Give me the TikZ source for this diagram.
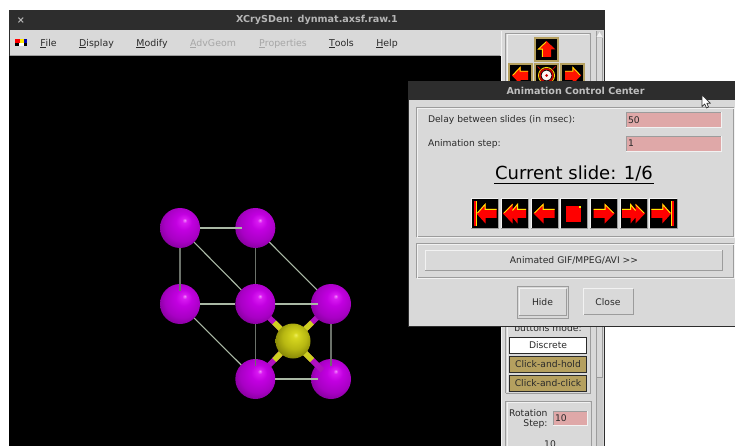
\documentclass[tikz,border=0pt]{standalone}
\usepackage{fontspec}
\setmainfont{DejaVu Sans}
\usetikzlibrary{calc}
\definecolor{guigray}{HTML}{D9D9D9}
\definecolor{titlebar}{HTML}{2D2D2D}
\definecolor{hilite}{HTML}{F2F2F2}
\definecolor{lowlite}{HTML}{9C9C9C}
\definecolor{entrypink}{HTML}{DFA8A8}
\definecolor{tanbtn}{HTML}{B5A05F}
\definecolor{inktext}{HTML}{2A2A2A}
\definecolor{gridline}{HTML}{A9B8A4}
\definecolor{vline}{HTML}{6B726A}
\definecolor{bondpurple}{HTML}{B010C0}
\definecolor{bondyellow}{HTML}{CFCF20}
\pgfdeclareradialshading{purpleball}{\pgfpoint{6bp}{10bp}}{
  rgb(0bp)=(0.95,0.55,0.98);
  rgb(3bp)=(0.85,0.1,0.95);
  rgb(10bp)=(0.76,0,0.88);
  rgb(22bp)=(0.66,0,0.77);
  rgb(34bp)=(0.45,0,0.53);
  rgb(44bp)=(0.2,0,0.25)}
\pgfdeclareradialshading{yellowball}{\pgfpoint{4bp}{9bp}}{
  rgb(0bp)=(0.93,0.93,0.35);
  rgb(4bp)=(0.84,0.84,0.12);
  rgb(17bp)=(0.72,0.72,0.07);
  rgb(30bp)=(0.5,0.5,0.02);
  rgb(44bp)=(0.2,0.2,0)}
\tikzset{
  x=1pt,y=-1pt,
  every node/.style={inner sep=0pt,outer sep=0pt,text=inktext,font=\fontsize{9.2}{11}\selectfont},
  menuitem/.style={anchor=center,font=\fontsize{9.4}{11}\selectfont},
  menuoff/.style={menuitem,text=lowlite!90!white},
  titletext/.style={font=\bfseries\fontsize{9.6}{11}\selectfont},
  atom/.style={circle,minimum size=40pt,shading=purpleball,draw=none},
  yatom/.style={circle,minimum size=35pt,shading=yellowball,draw=none},
  gridh/.style={draw=gridline,line width=1.1pt},
  gridv/.style={draw=vline,line width=1.1pt},
  entrybox/.style={fill=entrypink},
  redarrow/.style={fill=red,draw=none},
  yel/.style={draw=yellow!90!orange,line width=1pt,line join=miter},
}
\newcommand{\bevel}[4]{%
  \draw[hilite,line width=1pt] (#1,#4)--(#1,#2)--(#3,#2);
  \draw[lowlite,line width=1pt] (#3,#2)--(#3,#4)--(#1,#4);}
\newcommand{\groove}[4]{%
  \draw[lowlite,line width=0.8pt] (#1,#2) rectangle (#3,#4);
  \draw[hilite,line width=0.7pt] (#1+1,#2+1) rectangle (#3+1,#4+1);}
\newcommand{\entrybg}[4]{%
  \fill[entrybox] (#1,#2) rectangle (#3,#4);
  \draw[lowlite,line width=.8pt] (#1,#4)--(#1,#2)--(#3,#2);
  \draw[hilite,line width=.8pt] (#3,#2)--(#3,#4)--(#1,#4);}
\newcommand{\animbtn}[4]{%
  \fill[black] (#1,199) rectangle (#2,228);
  \draw[hilite,line width=1pt] (#1,228)--(#1,199)--(#2,199);
  \draw[lowlite,line width=1pt] (#2,199)--(#2,228)--(#1,228);
  \begin{scope}[shift={({(#1+#2)/2},213.5)},xscale=#3]#4\end{scope}}
\newcommand{\icsingle}{%
  \fill[redarrow] (-10,-4.5)--(1,-4.5)--(1,-10)--(11,0)--(1,10)--(1,4.5)--(-10,4.5)--cycle;
  \draw[yel] (-10,-4)--(1.5,-4)--(1.5,-9)--(10,-.5);}
\newcommand{\icdouble}{%
  \fill[redarrow] (-11.5,-4.5)--(-3,-4.5)--(-3,-10)--(2,-4)--(2,-10)--(11.5,0)--(2,10)--(2,4)--(-3,10)--(-3,4.5)--(-11.5,4.5)--cycle;
  \draw[yel] (-11.5,-4)--(-3,-4)--(-3,-9)--(2,-3);
  \draw[yel] (2,-9)--(10.5,-.5);}
\newcommand{\icend}{%
  \fill[redarrow] (-12,-4.5)--(-1,-4.5)--(-1,-10)--(8,0)--(-1,10)--(-1,4.5)--(-12,4.5)--cycle;
  \fill[redarrow] (8,-12) rectangle (11,12);
  \draw[yel] (-12,-4)--(-.5,-4)--(-.5,-9)--(7,-.5);
  \draw[yel] (8.5,-12)--(8.5,12);}
\newcommand{\icstop}{%
  \fill[redarrow] (-7.5,-7.5) rectangle (7.5,8);
  \fill[yellow] (5,-7) rectangle (7,-5);}
\newcommand{\rotbtn}[5]{%
  \fill[black] (#1,#2) rectangle (#3,#4);
  \draw[tanbtn,line width=1.6pt] (#1+.8,#2+.8) rectangle (#3-.8,#4-.8);
  \begin{scope}[shift={({(#1+#3)/2},{(#2+#4)/2})}]#5\end{scope}}
\newcommand{\rotarrow}{%
  \fill[red!85!orange] (-7.5,-4.5)--(0,-4.5)--(0,-9)--(8.5,0)--(0,9)--(0,4.5)--(-7.5,4.5)--cycle;
  \draw[yellow!85!orange,line width=.9pt] (-7.5,-4.2)--(.4,-4.2)--(.4,-8)--(7.5,-.5);}
\begin{document}
\begin{tikzpicture}
\useasboundingbox (0,0) rectangle (735,446);
\fill[white] (0,0) rectangle (735,446);

% main window
\fill[titlebar] (9,10.5) rectangle (604.5,446);
\fill[guigray] (9.5,30) rectangle (604,446);
\draw[lowlite,line width=1pt] (9.5,55.5)--(500,55.5);
\fill[black] (9,56) rectangle (500.5,446);
\node[titletext,text=lightgray!90!gray] (xclose) at (21,20.3) {×};
\node[titletext,text=lightgray!85!gray] (maintitle) at (317,20.3) {XCrySDen: dynmat.axsf.raw.1};

% menu
\fill[black] (15,39) rectangle (27,46);
\fill[red] (15,39) rectangle (19.5,43);
\fill[yellow!90!orange] (19.5,39) rectangle (23.5,43);
\fill[blue!70!black] (23.5,39) rectangle (27,43);
\fill[white] (19,43) rectangle (24,46);
\node[menuitem] (mfile) at (48.5,43.5) {\underline{F}ile};
\node[menuitem] (mdisp) at (96.5,43.5) {\underline{D}isplay};
\node[menuitem] (mmod) at (152,43.5) {\underline{M}odify};
\node[menuoff] (madv) at (213,43.5) {\underline{A}dvGeom};
\node[menuoff] (mprop) at (283,43.5) {\underline{P}roperties};
\node[menuitem] (mtools) at (341.5,43.5) {\underline{T}ools};
\node[menuitem] (mhelp) at (387,43.5) {\underline{H}elp};

% right panel
\draw[hilite,line width=.8pt] (501,446)--(501,31);
\draw[lowlite,line width=.8pt] (505.5,393)--(505.5,33)--(590.5,33)--(590.5,393)--(505.5,393);
\draw[hilite,line width=.7pt] (507,392)--(507,34.5)--(589,34.5);
\draw[lowlite,line width=.8pt] (505.5,446)--(505.5,401)--(591,401)--(591,446);
\draw[hilite,line width=.7pt] (507,446)--(507,402)--(589.5,402);
\fill[guigray!85!gray] (596,31) rectangle (603,446);
\draw[lowlite,line width=.6pt] (596,31)--(596,446);
\fill[guigray] (597,38) rectangle (602,377);
\draw[lowlite,line width=.6pt] (597,377)--(602,377)--(602,38);
\fill[hilite] (599.5,32)--(602.5,37)--(596.5,37)--cycle;

\rotbtn{534}{37}{559}{62}{\begin{scope}[rotate=90]\rotarrow\end{scope}}
\rotbtn{508}{63}{533}{88}{\begin{scope}[xscale=-1]\rotarrow\end{scope}}
\rotbtn{560}{63}{585}{88}{\rotarrow}
\rotbtn{534}{63}{559}{88}{%
  \draw[yellow!80!orange,line width=1pt] (0,0) circle (8);
  \draw[red!80!black,line width=1.4pt] (0,0) circle (6.5);
  \fill[white!80!pink] (0,0) circle (5);
  \fill[red!80!black] (0,0) circle (1.5);
  \draw[red!70!black,line width=1pt] (-9,-9)--(-4,-4) (9,-9)--(4,-4) (-9,9)--(-4,4) (9,9)--(4,4);}

% lower panel widgets
\node (bmode) at (548,328) {buttons mode:};
\fill[white] (509.5,337.5) rectangle (586.5,353.5);
\draw[inktext,line width=1pt] (509.5,337.5) rectangle (586.5,353.5);
\node (bdisc) at (548,345.5) {Discrete};
\fill[tanbtn] (509.5,356.5) rectangle (586.5,372.5);
\draw[inktext,line width=1pt] (509.5,356.5) rectangle (586.5,372.5);
\node (bhold) at (548,364.5) {Click-and-hold};
\fill[tanbtn] (509.5,375.5) rectangle (586.5,391.5);
\draw[inktext,line width=1pt] (509.5,375.5) rectangle (586.5,391.5);
\node (bclick) at (548,383.5) {Click-and-click};
\node[anchor=east] (lrot) at (547.5,413) {Rotation};
\node[anchor=east] (lstep) at (547.5,424.5) {Step:};
\entrybg{553}{411}{587}{425}
\node[anchor=west] (vstep) at (555,418.5) {10};
\begin{scope}
\clip (505,430) rectangle (590,446);
\node (vten) at (550,444) {10};
\end{scope}

% structure: atom positions, bonds beneath the spheres
\coordinate (ymid) at (293,341);
\coordinate (p4) at (255.3,304);
\coordinate (p5) at (331,304);
\coordinate (p6) at (255.3,379);
\coordinate (p7) at (331,379);
\foreach \t in {p4,p5,p6,p7}{
  \draw[line width=5.5pt,color=bondpurple] (ymid) -- (\t);
  \draw[line width=5.5pt,color=bondyellow] (ymid) -- ($(ymid)!0.5!(\t)$);
}
\node[atom] (a1) at (180,228) {};
\node[atom] (a2) at (255.3,228) {};
\node[atom] (a3) at (180,304) {};
\node[atom] (a4) at (p4) {};
\node[atom] (a5) at (p5) {};
\node[atom] (a6) at (p6) {};
\node[atom] (a7) at (p7) {};
\draw[line width=5.5pt,color=bondpurple,shorten <=12pt] (p7) -- ($(ymid)!0.5!(p7)$);
\draw[line width=5.5pt,color=bondyellow] (ymid) -- ($(ymid)!0.5!(p7)$);
\node[yatom] (y1) at (ymid) {};
% cell edges
\draw[gridh,shorten <=20pt,shorten >=13pt] (a1.center)--(a2.center);
\draw[gridv,shorten <=20pt,shorten >=13pt] (a1.center)--(a3.center);
\draw[gridv,shorten <=20pt,shorten >=20pt] (a2.center)--(a4.center);
\draw[gridh,shorten <=20pt,shorten >=20pt] (a1.center)--(a4.center);
\draw[gridh,shorten <=20pt,shorten >=20pt] (a2.center)--(a5.center);
\draw[gridh,shorten <=20pt,shorten >=20pt] (a3.center)--(a4.center);
\draw[gridh,shorten <=20pt,shorten >=13pt] (a4.center)--(a5.center);
\draw[gridh,shorten <=20pt,shorten >=20pt] (a3.center)--(a6.center);
\draw[gridv,shorten <=20pt,shorten >=13pt] (a4.center)--(a6.center);
\draw[gridv,shorten <=20pt,shorten >=13pt] (a5.center)--(a7.center);
\draw[gridh,shorten <=20pt,shorten >=13pt] (a6.center)--(a7.center);

% dialog
\fill[titlebar] (408,81) rectangle (735,326.5);
\fill[guigray] (409,100) rectangle (735,325.5);
\node[titletext,text=lightgray] (dtitle) at (575.5,90.7) {Animation Control Center};
\groove{416}{107}{733}{236}
\node[anchor=west] (l1) at (428,120) {Delay between slides (in msec):};
\entrybg{626}{112.5}{721}{127}
\node[anchor=west] (e1) at (628,120) {50};
\node[anchor=west] (l2) at (428,143.5) {Animation step:};
\entrybg{626}{136.5}{721}{151}
\node[anchor=west] (e2) at (628,143.5) {1};
\node[font=\fontsize{18}{20}\selectfont,text=black] (cur) at (574,173.5) {Current slide: 1/6};
\draw[black,line width=1pt] (494,183.2)--(654,183.2);

\animbtn{471}{498}{-1}{\icend}
\animbtn{501}{528}{-1}{\icdouble}
\animbtn{531}{558}{-1}{\icsingle}
\animbtn{560.5}{587}{1}{\icstop}
\animbtn{590}{617}{1}{\icsingle}
\animbtn{620}{647}{1}{\icdouble}
\animbtn{649.5}{677}{1}{\icend}

\groove{416}{243}{733}{277}
\bevel{425}{250}{722.5}{270}
\node (anim) at (574,260) {Animated GIF/MPEG/AVI >{}>};

\draw[lowlite,line width=.8pt] (517,286.5) rectangle (568,318);
\bevel{519}{288.5}{566}{315.5}
\node (hide) at (542.5,302) {Hide};
\bevel{583.5}{288.5}{633}{314.5}
\node (close) at (608,302) {Close};

% mouse cursor
\draw[fill=white,draw=black!80,line width=.7pt,line join=round]
  (702,95)--(702,106.5)--(704.7,104)--(706.5,108)--(708.5,107)--(706.8,103.3)--(710.5,103.3)--cycle;
\end{tikzpicture}
\end{document}
